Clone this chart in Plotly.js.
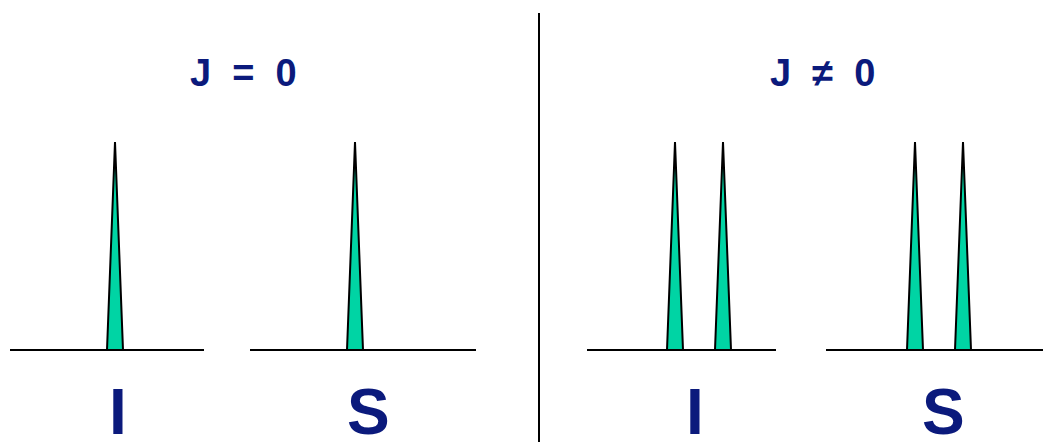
<!DOCTYPE html>
<html>
<head>
<meta charset="utf-8">
<script src="https://cdn.plot.ly/plotly-3.0.1.min.js"></script>
<style>html,body{margin:0;padding:0;background:#fff;}#chart{width:1043px;height:442px;}</style>
</head>
<body>
<div id="chart"></div>
<script>
// Panel titles and nucleus labels
const panelTitles = ["J\u00a0\u00a0=\u00a0\u00a00", "J\u00a0\u00a0\u2260\u00a0\u00a00"];
const panelTitleX = [243, 822];
const nucleusLabels = ["I", "S", "I", "S"];
const nucleusLabelX = [118, 368, 695, 943];

// Peak positions (spectrum x) and relative intensities
const iPeaksJ0 = [115];
const sPeaksJ0 = [355];
const iPeaksJ = [675, 723];
const sPeaksJ = [915, 963];
const peakIntensity = [1, 1];
const peakHalfWidth = 8;

// Baseline extents for each spectrum
const baselineStart = [10, 250, 587, 826];
const baselineEnd = [204, 476, 776, 1043];

const fillColor = "#00D4A4";
const textColor = "#0B1A7C";

const traces = [];
// baselines
for (let k = 0; k < baselineStart.length; k++) {
  traces.push({
    x: [baselineStart[k], baselineEnd[k]], y: [0, 0],
    mode: "lines", line: {color: "#000", width: 2},
    hoverinfo: "skip", showlegend: false
  });
}
// peaks
[iPeaksJ0, sPeaksJ0, iPeaksJ, sPeaksJ].forEach(peaks => {
  peaks.forEach((c, i) => {
    const h = peakIntensity[i];
    traces.push({
      x: [c - peakHalfWidth, c, c + peakHalfWidth, c - peakHalfWidth],
      y: [0, h, 0, 0],
      mode: "lines", fill: "toself", fillcolor: fillColor,
      line: {color: "#000", width: 2, shape: "linear"},
      hoverinfo: "skip", showlegend: false
    });
  });
});

const annotations = [];
panelTitles.forEach((t, i) => annotations.push({
  x: panelTitleX[i], y: 1.332, xref: "x", yref: "y", text: t, showarrow: false,
  font: {family: "Liberation Sans, Arial, sans-serif", size: 38, color: textColor, weight: "bold"},
  xanchor: "center", yanchor: "middle"
}));
nucleusLabels.forEach((t, i) => annotations.push({
  x: nucleusLabelX[i], y: -0.30, xref: "x", yref: "y", text: t, showarrow: false,
  font: {family: "Liberation Sans, Arial, sans-serif", size: 64, color: textColor, weight: "bold"},
  xanchor: "center", yanchor: "middle"
}));

const layout = {
  width: 1043, height: 442,
  margin: {l: 0, r: 0, t: 0, b: 0},
  paper_bgcolor: "#fff", plot_bgcolor: "#fff",
  xaxis: {range: [0, 1043], visible: false, fixedrange: true},
  yaxis: {range: [-0.4423, 1.6827], visible: false, fixedrange: true},
  showlegend: false,
  annotations: annotations,
  shapes: [{type: "line", xref: "x", yref: "paper", x0: 539, x1: 539, y0: 0, y1: 0.9706,
            line: {color: "#000", width: 2}}]
};

Plotly.newPlot("chart", traces, layout, {displayModeBar: false, staticPlot: true});
</script>
</body>
</html>
